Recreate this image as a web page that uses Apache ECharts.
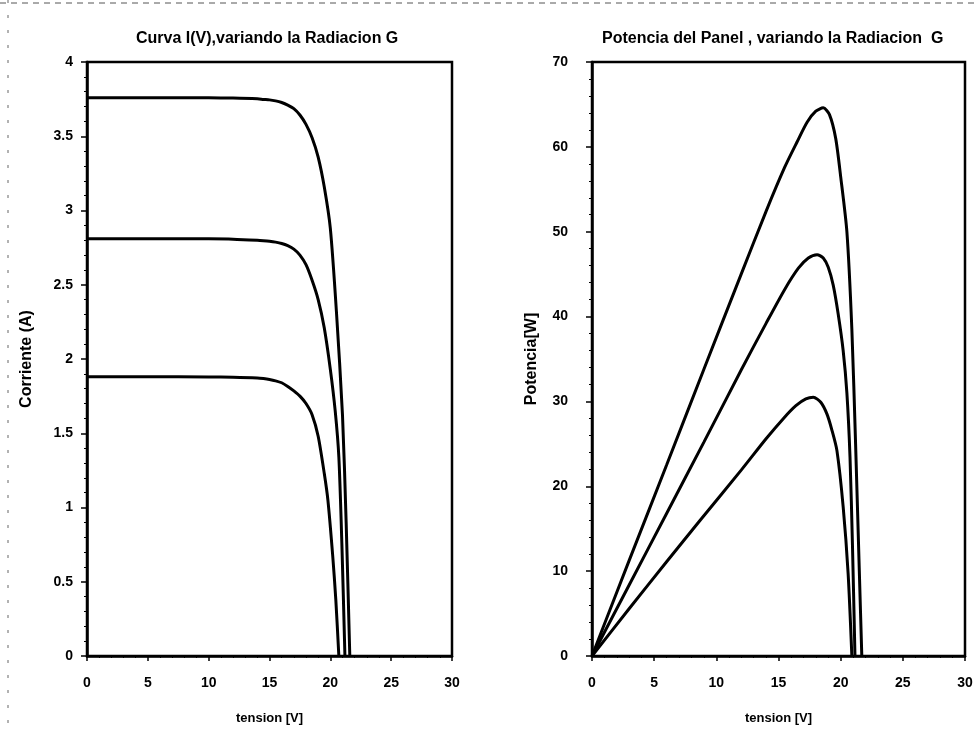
<!DOCTYPE html>
<html>
<head>
<meta charset="utf-8">
<script src="https://cdn.jsdelivr.net/npm/echarts@6/dist/echarts.min.js"></script>
<style>html,body{margin:0;padding:0;background:#fff;}#c{width:977px;height:730px;}</style>
</head>
<body>
<div id="c"></div>
<script>
// ---- Data ----
// I(V) curves (left panel)
const ivHighV = [0, 5, 10, 12, 14, 14.5, 15, 15.5, 16, 16.5, 17, 17.5, 18, 18.5, 19, 19.5, 20, 20.5, 21.0, 21.3, 21.6];
const ivHighI = [3.76, 3.76, 3.759, 3.757, 3.752, 3.748, 3.745, 3.738, 3.727, 3.71, 3.686, 3.643, 3.58, 3.49, 3.36, 3.16, 2.88, 2.32, 1.62, 0.90, 0.0];
const ivMidV  = [0, 5, 10, 12, 14, 14.5, 15, 15.5, 16, 16.5, 17, 17.5, 18, 18.5, 19, 19.5, 20, 20.4, 20.7, 20.95, 21.2];
const ivMidI  = [2.81, 2.81, 2.809, 2.807, 2.80, 2.797, 2.793, 2.787, 2.778, 2.763, 2.74, 2.70, 2.635, 2.53, 2.40, 2.21, 1.93, 1.65, 1.34, 0.75, 0.0];
const ivLowV  = [0, 5, 10, 12, 14, 14.5, 15, 15.5, 16, 16.5, 17, 17.5, 18, 18.5, 19, 19.5, 19.8, 20.2, 20.45, 20.7];
const ivLowI  = [1.88, 1.88, 1.879, 1.877, 1.872, 1.868, 1.862, 1.853, 1.84, 1.815, 1.785, 1.75, 1.70, 1.625, 1.48, 1.23, 1.05, 0.67, 0.38, 0.0];

// P(V) curves (right panel)
const pvHighV = [0, 3, 6, 9, 12, 14, 15.5, 16.5, 17.3, 18.0, 18.6, 19.1, 19.6, 20.0, 20.5, 20.9, 21.2, 21.5, 21.7];
const pvHighP = [0, 11.3, 22.5, 33.8, 45.0, 52.4, 57.6, 60.6, 62.9, 64.2, 64.6, 63.8, 61.0, 56.5, 50.0, 38.5, 25.0, 10.0, 0];
const pvMidV  = [0, 3, 6, 9, 12, 14, 15.5, 16.6, 17.4, 18.1, 18.6, 19.0, 19.4, 19.8, 20.2, 20.5, 20.75, 20.95, 21.15];
const pvMidP  = [0, 8.4, 16.8, 25.2, 33.7, 39.2, 43.2, 45.7, 46.9, 47.3, 46.9, 45.8, 43.7, 40.3, 36.0, 31.0, 23.5, 13.0, 0];
const pvLowV  = [0, 3, 6, 8.7, 12, 14, 15.4, 16.4, 17.2, 17.8, 18.4, 18.9, 19.3, 19.7, 20.2, 20.6, 20.9];
const pvLowP  = [0, 5.6, 11.1, 16.0, 21.9, 25.6, 28.0, 29.5, 30.3, 30.5, 29.9, 28.5, 26.6, 24.2, 17.6, 9.7, 0];

// Texts and ticks
const titleLeft = 'Curva I(V),variando la Radiacion G';
const titleRight = 'Potencia del Panel , variando la Radiacion  G';
const xName = 'tension [V]';
const yNameLeft = 'Corriente (A)';
const yNameRight = 'Potencia[W]';
const xTicks = [0, 5, 10, 15, 20, 25, 30];

const zip = (a, b) => a.map((v, i) => [v, b[i]]);
const font = "'Liberation Sans',Arial,sans-serif";

const chart = echarts.init(document.getElementById('c'), null, {renderer: 'canvas'});

function xAxisDef(gi) {
  return {
    gridIndex: gi, type: 'value', min: xTicks[0], max: xTicks[xTicks.length - 1], interval: 5,
    name: xName, nameLocation: 'middle', nameGap: 56,
    nameTextStyle: {color: '#000', fontFamily: font, fontWeight: 'bold', fontSize: 13},
    axisLine: {show: true, onZero: false, lineStyle: {color: '#000', width: 2.5}},
    axisTick: {show: true, length: 5, lineStyle: {color: '#000', width: 1.5}},
    minorTick: {show: true, splitNumber: 5, length: 2, lineStyle: {color: '#000', width: 1}},
    axisLabel: {color: '#000', fontFamily: font, fontWeight: 'bold', fontSize: 14, margin: 20},
    splitLine: {show: false}
  };
}
function yAxisDef(gi, max, interval, name, gap, margin) {
  return {
    gridIndex: gi, type: 'value', min: 0, max: max, interval: interval,
    name: name, nameLocation: 'middle', nameGap: gap,
    nameTextStyle: {color: '#000', fontFamily: font, fontWeight: 'bold', fontSize: 16},
    axisLine: {show: true, onZero: false, lineStyle: {color: '#000', width: 2.5}},
    axisTick: {show: true, length: 6, lineStyle: {color: '#000', width: 1.5}},
    minorTick: {show: true, splitNumber: 5, length: 3, lineStyle: {color: '#000', width: 1}},
    axisLabel: {color: '#000', fontFamily: font, fontWeight: 'bold', fontSize: 14, margin: margin},
    splitLine: {show: false}
  };
}
function lineSeries(xi, data) {
  return {
    type: 'line', xAxisIndex: xi, yAxisIndex: xi, data: data,
    showSymbol: false, symbol: 'none', smooth: 0.25,
    lineStyle: {color: '#000', width: 3}, z: 3, silent: true
  };
}

chart.setOption({
  animation: false,
  backgroundColor: '#fff',
  title: [
    {text: titleLeft, left: 131, top: 26, textStyle: {color: '#000', fontFamily: font, fontWeight: 'bold', fontSize: 16}},
    {text: titleRight, left: 597, top: 26, textStyle: {color: '#000', fontFamily: font, fontWeight: 'bold', fontSize: 16}}
  ],
  grid: [
    {left: 87, right: 525, top: 62, bottom: 70, show: true, borderColor: '#000', borderWidth: 2.5, backgroundColor: 'transparent'},
    {left: 592, right: 12, top: 62, bottom: 70, show: true, borderColor: '#000', borderWidth: 2.5, backgroundColor: 'transparent'}
  ],
  xAxis: [xAxisDef(0), xAxisDef(1)],
  yAxis: [
    yAxisDef(0, 4, 0.5, yNameLeft, 52, 14),
    yAxisDef(1, 70, 10, yNameRight, 52, 24)
  ],
  series: [
    lineSeries(0, zip(ivHighV, ivHighI)),
    lineSeries(0, zip(ivMidV, ivMidI)),
    lineSeries(0, zip(ivLowV, ivLowI)),
    lineSeries(1, zip(pvHighV, pvHighP)),
    lineSeries(1, zip(pvMidV, pvMidP)),
    lineSeries(1, zip(pvLowV, pvLowP))
  ],
  graphic: [
    {type: 'line', shape: {x1: 0, y1: 3, x2: 977, y2: 3}, style: {stroke: '#555', lineWidth: 1, lineDash: [6, 5]}, silent: true},
    {type: 'line', shape: {x1: 8, y1: 0, x2: 8, y2: 730}, style: {stroke: '#666', lineWidth: 1, lineDash: [3, 12]}, silent: true}
  ]
});
</script>
</body>
</html>
